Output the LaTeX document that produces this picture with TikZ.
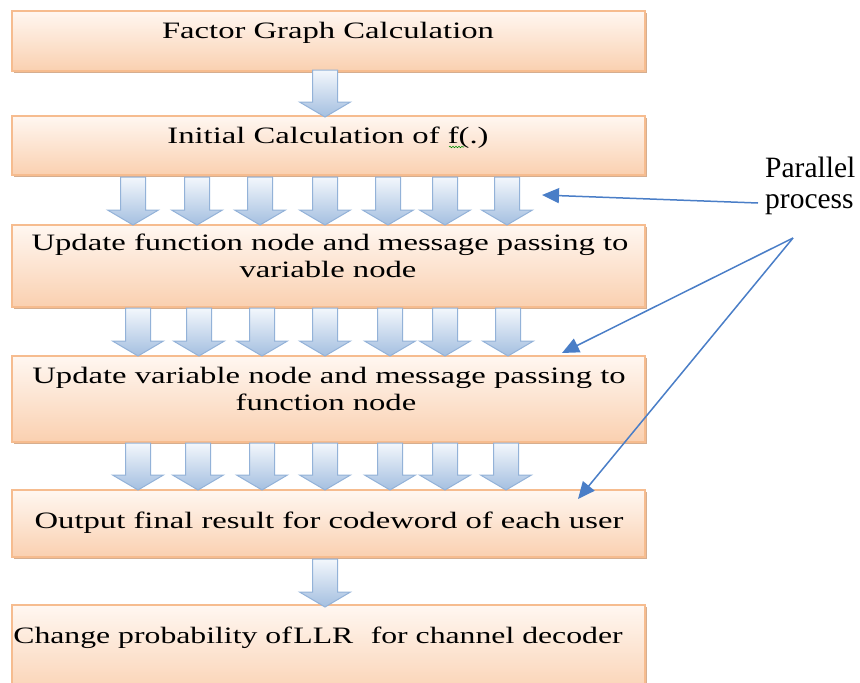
\documentclass[tikz,border=0pt]{standalone}
\usepackage{fontspec}
\usepackage{graphicx}
\setmainfont{Liberation Serif}
\usetikzlibrary{arrows.meta,decorations.pathmorphing,shadows}
\definecolor{boxedge}{HTML}{F6BC8F}
\definecolor{boxtop}{HTML}{FFF7F1}
\definecolor{boxmid}{HTML}{FCDCC4}
\definecolor{boxbot}{HTML}{FAD0B0}
\definecolor{boxshadow}{HTML}{D2A583}
\definecolor{arredge}{HTML}{93B2D8}
\definecolor{arrtop}{HTML}{F3F7FC}
\definecolor{arrbot}{HTML}{A4BFE0}
\definecolor{callout}{HTML}{4A7EC7}
\newcommand\wide[1]{\scalebox{1.39}[1]{#1}}
\newcommand\blockarrow[3]{%
  \shade[draw=arredge, line width=1pt, top color=arrtop, bottom color=arrbot, line join=miter]
   (#1-12.5,#2) -- (#1+12.5,#2) -- (#1+12.5,#3-15) -- (#1+25.5,#3-15) -- (#1,#3)
   -- (#1-25.5,#3-15) -- (#1-12.5,#3-15) -- cycle;}
\tikzset{
  flowbox/.style={rectangle, draw=boxedge, line width=1.2pt, top color=boxtop,
    middle color=boxmid, bottom color=boxbot, minimum width=633pt, inner sep=0pt,
    drop shadow={shadow xshift=2pt, shadow yshift=-2pt, fill=boxshadow, opacity=0.9}},
  boxtext/.style={anchor=base, inner sep=0pt, font=\fontsize{23.5}{28}\selectfont},
  sidetext/.style={anchor=base west, inner sep=0pt, font=\fontsize{29.5}{31}\selectfont},
  callarrow/.style={draw=callout, line width=1.5pt, -{Triangle[length=17pt,width=15pt]}}
}
\begin{document}
\begin{tikzpicture}[x=1pt,y=-1pt]
\useasboundingbox (0,0) rectangle (860,683);
\clip (0,0) rectangle (860,683);
% boxes
\node[flowbox, minimum height=60pt] (b1) at (328.5,41) {};
\node[flowbox, minimum height=59pt] (b2) at (328.5,145.5) {};
\node[flowbox, minimum height=82pt] (b3) at (328.5,266) {};
\node[flowbox, minimum height=86pt] (b4) at (328.5,399) {};
\node[flowbox, minimum height=67pt] (b5) at (328.5,523.5) {};
\node[flowbox, minimum height=95pt] (b6) at (328.5,652.5) {};
% texts
\node[boxtext] (t1) at (328,38) {\wide{Factor Graph Calculation}};
\node[boxtext] (t2) at (328,143) {\wide{Initial Calculation of f(.)}};
\node[boxtext] (t3a) at (330,250) {\wide{Update function node and message passing to}};
\node[boxtext] (t3b) at (328,277) {\wide{variable node}};
\node[boxtext] (t4a) at (329,383) {\wide{Update variable node and message passing to}};
\node[boxtext] (t4b) at (326,410) {\wide{function node}};
\node[boxtext] (t5) at (329,528) {\wide{Output final result for codeword of each user}};
\node[boxtext] (t6) at (318,643) {\scalebox{1.35}[1]{Change probability of\hspace{0.05em}LLR\hspace{0.3em} for channel decoder}};
% spell-check squiggle
\draw[green!55!black, line width=0.6pt, decorate, decoration={snake, amplitude=0.7pt, segment length=3pt}] (449,147) -- (464,147);
% block arrows
\blockarrow{325}{70}{117}
\foreach \x in {133,197,260,325,388,445,507} {\blockarrow{\x}{177}{225}}
\foreach \x in {138,199,262,325,390,445,508} {\blockarrow{\x}{308}{356}}
\foreach \x in {138,198,262,325,390,445,506} {\blockarrow{\x}{443}{490}}
\blockarrow{325}{559}{607}
% side label
\node[sidetext] (pl1) at (765,177) {Parallel};
\node[sidetext] (pl2) at (765,208) {process};
\coordinate (tailA) at (758,203);
\coordinate (tailB) at (793,238);
\coordinate (headA) at (542,195);
\coordinate (headB) at (562,353);
\coordinate (headC) at (578,499);
\draw[callarrow] (tailA) -- (headA);
\draw[callarrow] (tailB) -- (headB);
\draw[callarrow] (tailB) -- (headC);
\end{tikzpicture}
\end{document}
